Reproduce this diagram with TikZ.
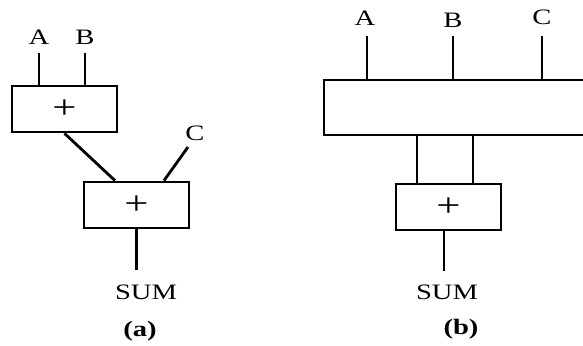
\documentclass[tikz,border=0pt]{standalone}
\usepackage{fontspec}
\setmainfont{Liberation Serif}[FakeStretch=1.3]
\usetikzlibrary{positioning, calc}
\tikzset{
  adder/.style={rectangle, draw, line width=2.8pt, minimum width=105pt, minimum height=46pt,
    inner sep=0pt, font=\fontsize{33}{33}\selectfont},
  wire/.style={line width=2.8pt},
  sig/.style={inner sep=0pt, font=\fontsize{22}{22}\selectfont},
  caption/.style={inner sep=0pt, font=\fontsize{22}{22}\selectfont\bfseries},
}

\begin{document}
\begin{tikzpicture}[x=1pt, y=-1pt]
\useasboundingbox (0,0) rectangle (583,345);

% (a) two adders in a chain
\node[adder] (add1) at (64.5,109) {+};
\node[adder] (add2) at (136.5,205) {+};
\node[sig] (inA) at (39,37) {A};
\node[sig] (inB) at (85,37) {B};
\node[sig] (inC) at (195,133) {C};
\node[sig] (sumA) at (146,292) {SUM};
\node[caption] (capA) at (140,331) {(a)};
\coordinate (tA) at (39,53);
\coordinate (tB) at (85,53);
\coordinate (tC) at (188,147);
\coordinate (oA) at (136.5,270);
\draw[wire] (tA) -- (tA |- add1.north);
\draw[wire] (tB) -- (tB |- add1.north);
\draw[wire] (add1.south) -- ($(add2.north)+(-21.5,0)$);
\draw[wire] (tC) -- ($(add2.north)+(27.5,0)$);
\draw[wire] (add2.south) -- (oA);

% (b) one wide block, one adder
\node[adder, minimum width=268pt, minimum height=55pt] (mux) at (458,107.5) {};
\node[adder] (add3) at (448.5,207) {+};
\node[sig] (inA2) at (365,18) {A};
\node[sig] (inB2) at (453,20) {B};
\node[sig] (inC2) at (542,17) {C};
\node[sig] (sumB) at (447,292) {SUM};
\node[caption] (capB) at (461,329) {(b)};
\coordinate (tA2) at (367,36);
\coordinate (tB2) at (453,36);
\coordinate (tC2) at (542,36);
\coordinate (oB) at (444,271);
\coordinate (m1) at ($(add3.north)+(-31.5,0)$);
\coordinate (m2) at ($(add3.north)+(24.5,0)$);
\draw[wire] (tA2) -- (tA2 |- mux.north);
\draw[wire] (tB2) -- (tB2 |- mux.north);
\draw[wire] (tC2) -- (tC2 |- mux.north);
\draw[wire] (m1 |- mux.south) -- (m1);
\draw[wire] (m2 |- mux.south) -- (m2);
\draw[wire] (oB) -- (oB |- add3.south);
\end{tikzpicture}
\end{document}
